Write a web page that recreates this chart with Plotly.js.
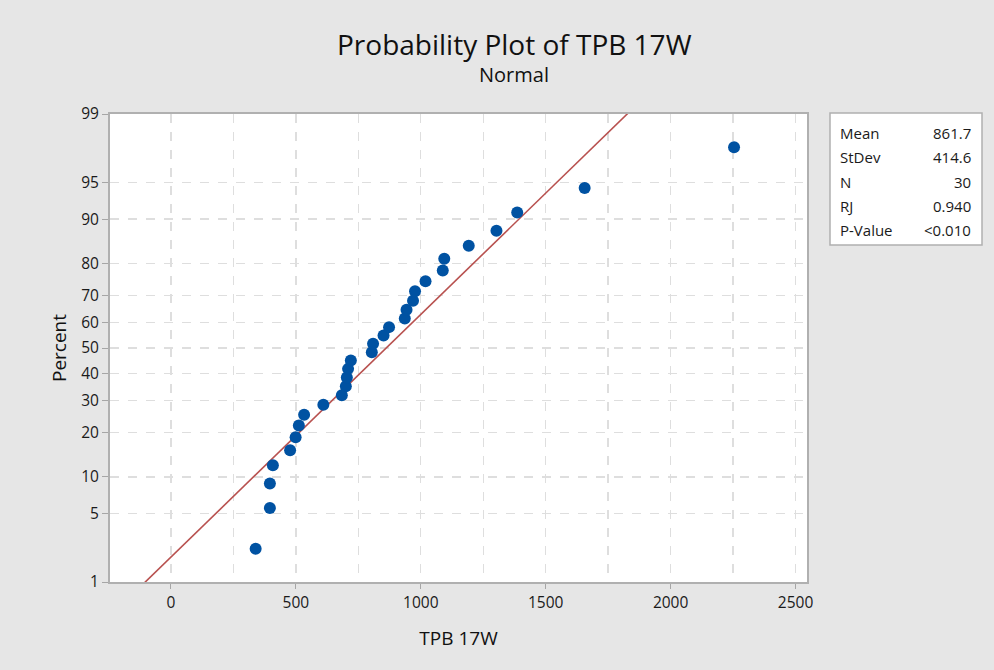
<!DOCTYPE html>
<html>
<head>
<meta charset="utf-8">
<script src="https://cdn.plot.ly/plotly-3.0.1.min.js"></script>
<style>
html,body{margin:0;padding:0;background:#e6e6e6;}
#chart{width:994px;height:670px;}
</style>
</head>
<body>
<div id="chart"></div>
<script>
// ---- Data ----
const xValues = [339, 396, 396, 408, 477, 499, 512, 533, 610, 684,
                 700, 704, 709, 720, 804, 809, 851, 873, 936, 943,
                 969, 977, 1019, 1088, 1094, 1192, 1303, 1386, 1656, 2254];
const percentValues = [2.30, 5.59, 8.88, 12.17, 15.46, 18.75, 22.04, 25.33, 28.62, 31.91,
                       35.20, 38.49, 41.78, 45.07, 48.36, 51.64, 54.93, 58.22, 61.51, 64.80,
                       68.09, 71.38, 74.67, 77.96, 81.25, 84.54, 87.83, 91.12, 94.41, 97.70];
const percentTicks = [1, 5, 10, 20, 30, 40, 50, 60, 70, 80, 90, 95, 99];
const statLabels = ["Mean", "StDev", "N", "RJ", "P-Value"];
const statValues = ["861.7", "414.6", "30", "0.940", "<0.010"];
const fitMean = 861.7;
const fitStDev = 414.6;
const fitPercents = [0.1, 99.9];

// inverse standard normal CDF (Acklam) used as the probability-axis scale
function normInv(p) {
  const a = [-3.969683028665376e+01, 2.209460984245205e+02, -2.759285104469687e+02, 1.383577518672690e+02, -3.066479806614716e+01, 2.506628277459239e+00];
  const b = [-5.447609879822406e+01, 1.615858368580409e+02, -1.556989798598866e+02, 6.680131188771972e+01, -1.328068155288572e+01];
  const c = [-7.784894002430293e-03, -3.223964580411365e-01, -2.400758277161838e+00, -2.549671669539910e+00, 4.374664141464968e+00, 2.938163982698783e+00];
  const d = [7.784695709041462e-03, 3.224671290700398e-01, 2.445134137142996e+00, 3.754408661907416e+00];
  const pl = 0.02425, ph = 1 - pl;
  let q, r;
  if (p < pl) {
    q = Math.sqrt(-2 * Math.log(p));
    return (((((c[0]*q+c[1])*q+c[2])*q+c[3])*q+c[4])*q+c[5]) / ((((d[0]*q+d[1])*q+d[2])*q+d[3])*q+1);
  } else if (p <= ph) {
    q = p - 0.5; r = q*q;
    return (((((a[0]*r+a[1])*r+a[2])*r+a[3])*r+a[4])*r+a[5])*q / (((((b[0]*r+b[1])*r+b[2])*r+b[3])*r+b[4])*r+1);
  } else {
    q = Math.sqrt(-2 * Math.log(1 - p));
    return -(((((c[0]*q+c[1])*q+c[2])*q+c[3])*q+c[4])*q+c[5]) / ((((d[0]*q+d[1])*q+d[2])*q+d[3])*q+1);
  }
}
const zOf = p => normInv(p / 100);

const font = "'Open Sans', 'Noto Sans', sans-serif";

const fitZ = fitPercents.map(zOf);
const fitTrace = {
  x: fitZ.map(z => fitMean + fitStDev * z),
  y: fitZ,
  mode: 'lines',
  line: {color: '#b8514f', width: 1.6},
  hoverinfo: 'skip',
  showlegend: false
};
const pointTrace = {
  x: xValues,
  y: percentValues.map(zOf),
  mode: 'markers',
  marker: {color: '#0052a2', size: 12},
  showlegend: false
};

const annotations = [
  {text: 'Probability Plot of TPB 17W', xref: 'paper', yref: 'paper', x: 0.58, y: 1.0, yshift: 70,
   showarrow: false, font: {family: font, size: 28, color: '#111'}, xanchor: 'center', yanchor: 'middle'},
  {text: 'Normal', xref: 'paper', yref: 'paper', x: 0.58, y: 1.0, yshift: 40,
   showarrow: false, font: {family: font, size: 20, color: '#111'}, xanchor: 'center', yanchor: 'middle'}
];
const rowTop = 133, rowStep = 24.3;
statLabels.forEach((lab, i) => {
  const ypx = rowTop + i * rowStep;
  const yp = 1 - (ypx - 114) / (582 - 114);
  annotations.push({text: lab, xref: 'paper', yref: 'paper', x: (838 - 110) / 697, y: yp,
    xanchor: 'left', yanchor: 'middle', showarrow: false, font: {family: font, size: 15, color: '#1a1a1a'}});
  annotations.push({text: statValues[i], xref: 'paper', yref: 'paper', x: (973 - 110) / 697, y: yp,
    xanchor: 'right', yanchor: 'middle', showarrow: false, font: {family: font, size: 15, color: '#1a1a1a'}});
});

const layout = {
  width: 994, height: 670,
  paper_bgcolor: '#e6e6e6',
  plot_bgcolor: '#ffffff',
  margin: {l: 110, r: 187, t: 114, b: 88, pad: 0},
  showlegend: false,
  xaxis: {
    range: [-244, 2546],
    tickvals: [0, 500, 1000, 1500, 2000, 2500],
    ticktext: ['0', '500', '1000', '1500', '2000', '2500'],
    ticks: 'outside', ticklen: 5, tickcolor: '#a6a6a6',
    showgrid: true, gridcolor: '#dedede', griddash: 'dash', gridwidth: 1.3,
    minor: {tickvals: [250, 750, 1250, 1750, 2250], showgrid: true, gridcolor: '#dedede', griddash: 'dash', gridwidth: 1.3, ticks: ''},
    zeroline: false,
    showline: true, linecolor: '#b0b0b0', linewidth: 2, mirror: true,
    tickfont: {family: font, size: 15.5, color: '#1a1a1a'},
    title: {text: 'TPB 17W', font: {family: font, size: 19, color: '#111'}, standoff: 20}
  },
  yaxis: {
    range: [zOf(1), zOf(99)],
    tickvals: percentTicks.map(zOf),
    ticktext: percentTicks.map(String),
    ticks: 'outside', ticklen: 6, tickcolor: '#a6a6a6',
    showgrid: true, gridcolor: '#dedede', griddash: 'dash', gridwidth: 1.3,
    zeroline: false,
    showline: true, linecolor: '#b0b0b0', linewidth: 2, mirror: true,
    tickfont: {family: font, size: 15.5, color: '#1a1a1a'},
    title: {text: 'Percent', font: {family: font, size: 19, color: '#111'}, standoff: 10}
  },
  shapes: [
    {type: 'rect', xref: 'paper', yref: 'paper',
     x0: (830 - 110) / 697, x1: (982 - 110) / 697,
     y0: 1 - (245 - 114) / 468, y1: 1 - (113 - 114) / 468,
     fillcolor: '#ffffff', line: {color: '#b0b0b0', width: 1.5}}
  ],
  annotations: annotations
};

Plotly.newPlot('chart', [fitTrace, pointTrace], layout, {displayModeBar: false, staticPlot: true});
</script>
</body>
</html>
